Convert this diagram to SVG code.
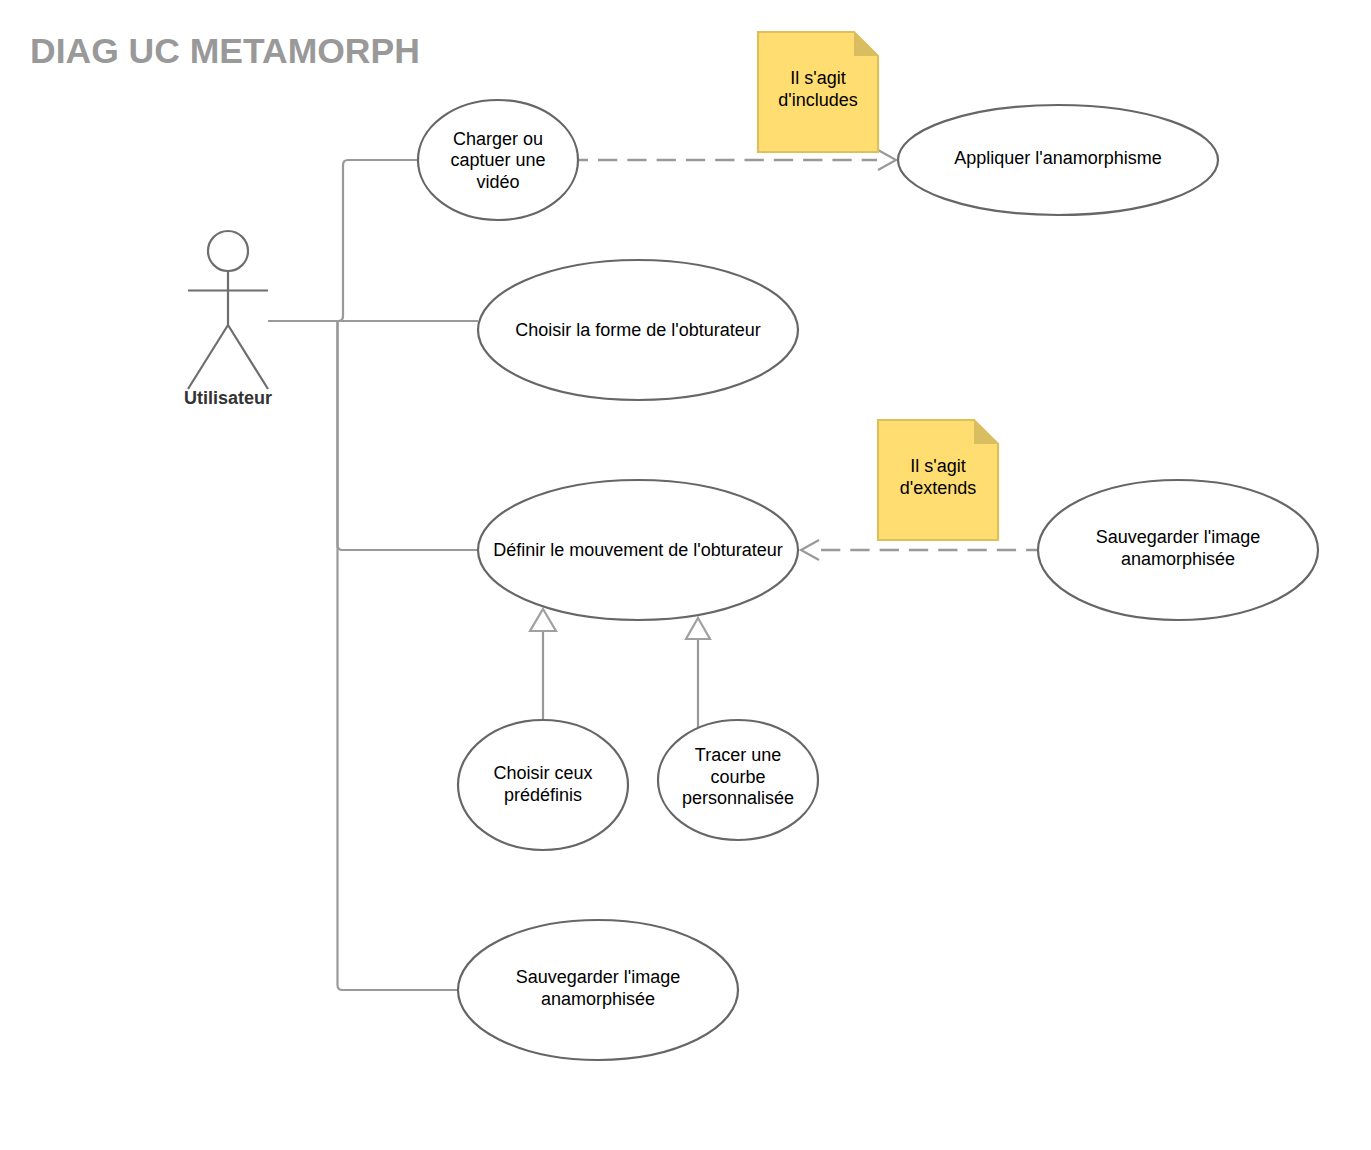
<svg xmlns="http://www.w3.org/2000/svg" width="1371" height="1150" viewBox="0 0 1371 1150">
<style>
text{font-family:"Liberation Sans",Arial,sans-serif;font-size:18px;fill:#000;text-anchor:middle}
.uc{fill:#fff;stroke:#666;stroke-width:2.2}
.act{fill:none;stroke:#6e6e6e;stroke-width:2.2}
.c{fill:none;stroke:#999;stroke-width:2.2}
.d{stroke-dasharray:19.3 10;stroke-width:2.5}
.note{fill:#ffdd71;stroke:#dcc05c;stroke-width:2.2}
.fold{fill:#d9bd61}
.tri{fill:#fff;stroke:#a0a0a0;stroke-width:2.2}
</style>
<rect width="1371" height="1150" fill="#fff"/>
<text id="title" x="30" y="63" style="font-size:35.5px;font-weight:bold;fill:#999;text-anchor:start">DIAG UC METAMORPH</text>
<g id="connectors">
<path class="c" d="M268 321H338Q343 321 343 316V165Q343 160 348 160H418"/>
<path class="c" d="M268 321H478"/>
<path class="c" d="M337.500 321V545Q337.500 550 342.500 550H478"/>
<path class="c" d="M337.500 321V985Q337.500 990 342.500 990H458"/>
<path class="c d" stroke-dashoffset="10.300" d="M579 160H877"/>
<path class="c" d="M878 150L896 160L878 170"/>
<path class="c d" d="M821 550H1038"/>
<path class="c" d="M819 540L801 550L819 560"/>
<path class="c" d="M543 720V631"/>
<path class="tri" d="M543 609L556 631H530Z"/>
<path class="c" d="M698 728V639"/>
<path class="tri" d="M698 618L710 639H686Z"/>
</g>
<g id="actor">
<circle class="act" cx="228" cy="251" r="20"/>
<path class="act" d="M228 271V325M188 290.500H268M188 389L228 325L268 389"/>
<text x="228" y="403.500" style="font-weight:bold;fill:#333">Utilisateur</text>
</g>
<g id="uc1"><ellipse class="uc" cx="498" cy="160" rx="80" ry="60"/><text x="498" y="144.500">Charger ou</text><text x="498" y="166">captuer une</text><text x="498" y="187.500">vidéo</text></g>
<g id="uc2"><ellipse class="uc" cx="1058" cy="160" rx="160" ry="55"/><text x="1058" y="164">Appliquer l'anamorphisme</text></g>
<g id="uc3"><ellipse class="uc" cx="638" cy="330" rx="160" ry="70"/><text x="638" y="335.500">Choisir la forme de l'obturateur</text></g>
<g id="uc4"><ellipse class="uc" cx="638" cy="550" rx="160" ry="70"/><text x="638" y="555.500">Définir le mouvement de l'obturateur</text></g>
<g id="uc5"><ellipse class="uc" cx="1178" cy="550" rx="140" ry="70"/><text x="1178" y="542.500">Sauvegarder l'image</text><text x="1178" y="564.500">anamorphisée</text></g>
<g id="uc6"><ellipse class="uc" cx="543" cy="785" rx="85" ry="65"/><text x="543" y="779">Choisir ceux</text><text x="543" y="801">prédéfinis</text></g>
<g id="uc7"><ellipse class="uc" cx="738" cy="780" rx="80" ry="60"/><text x="738" y="760.500">Tracer une</text><text x="738" y="782.500">courbe</text><text x="738" y="804">personnalisée</text></g>
<g id="uc8"><ellipse class="uc" cx="598" cy="990" rx="140" ry="70"/><text x="598" y="982.500">Sauvegarder l'image</text><text x="598" y="1004.500">anamorphisée</text></g>
<g id="note1"><path class="note" d="M758 32H854L878 56V152H758Z"/><path class="fold" d="M854 32L878 56H854Z"/><text x="818" y="84">Il s'agit</text><text x="818" y="106">d'includes</text></g>
<g id="note2"><path class="note" d="M878 420H974L998 444V540H878Z"/><path class="fold" d="M974 420L998 444H974Z"/><text x="938" y="472">Il s'agit</text><text x="938" y="494">d'extends</text></g>
</svg>
